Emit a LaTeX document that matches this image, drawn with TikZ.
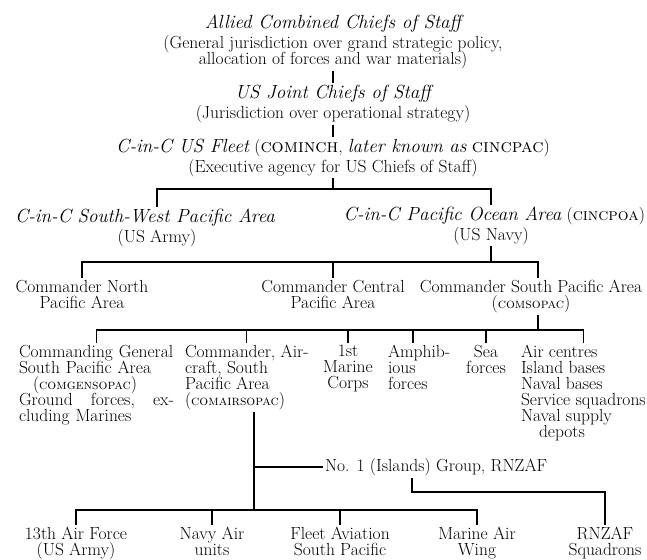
\documentclass[tikz,border=0pt]{standalone}
\usetikzlibrary{positioning}

\newcommand{\chief}[1]{{\fontsize{19}{18}\selectfont\itshape #1}}
\newcommand{\abbr}[2][14]{{\fontsize{#1}{16}\selectfont\textsc{#2}}}
\newcommand{\orgfont}{\fontsize{17.5}{16}\selectfont\lineskiplimit -6pt\relax}

\begin{document}
\begin{tikzpicture}[x=1pt, y=-1pt, node distance=12pt,
    box/.style={inner sep=0pt, outer sep=2pt, align=center, font=\orgfont},
    link/.style={line width=1.2pt}]
    \useasboundingbox (0,0) rectangle (647,559);

    %define the commands, top down
    \node[box, anchor=north] (acs) at (333,13) {\chief{Allied Combined Chiefs of Staff}\\[4pt]
        (General jurisdiction over grand strategic policy,\\allocation of forces and war materials)};
    \node[box, below=of acs] (jcs) {\chief{US Joint Chiefs of Staff}\\[4pt](Jurisdiction over operational strategy)};
    \node[box, below=of jcs] (fleet) {\chief{C-in-C US Fleet} (\abbr[19]{cominch}, \chief{later known as} \abbr[19]{cincpac})\\[4pt]
        (Executive agency for US Chiefs of Staff)};

    \node[box, anchor=north] (swpa) at (145,207) {\chief{C-in-C South-West Pacific Area}};
    \node[box, anchor=north] (army) at (157,227) {(US Army)};
    \node[box, anchor=north east] (poa) at (647,205) {\chief{C-in-C Pacific Ocean Area} (\abbr[17]{cincpoa})};
    \node[box, anchor=north] (navy) at (491,225) {(US Navy)};

    \node[box, anchor=north] (cna) at (82,278) {Commander North\\Pacific Area};
    \node[box, anchor=north] (cca) at (333,278) {Commander Central\\Pacific Area};
    \node[box, anchor=north] (csa) at (531,278) {Commander South Pacific Area\\(\abbr{comsopac})};

    \node[box, anchor=north west, align=left, text width=155pt] (cg) at (17,343) {Commanding General\\South Pacific Area\\
        \hspace*{14pt}(\abbr{comgensopac})\\Ground\hfill forces,\hfill ex-\\cluding Marines};
    \node[box, anchor=north west, align=left] (comair) at (183,343) {Commander, Air-\\craft, South\\Pacific Area\\(\abbr{comairsopac})};
    \node[box, anchor=north] (marine) at (348,343) {1st\\Marine\\Corps};
    \node[box, anchor=north west, align=left] (amph) at (386,343) {Amphib-\\ious\\forces};
    \node[box, anchor=north] (sea) at (486,343) {Sea\\forces};
    \node[box, anchor=north west, align=left] (bases) at (519,343) {Air centres\\Island bases\\Naval bases\\
        Service squadrons\\Naval supply\\\hspace*{18pt}depots};

    \node[box, anchor=west] (grp) at (323,467) {No. 1 (Islands) Group, RNZAF};

    \node[box, anchor=north] (af) at (76,525) {13th Air Force\\(US Army)};
    \node[box, anchor=north] (nau) at (212,525) {Navy Air\\units};
    \node[box, anchor=north] (fas) at (340,525) {Fleet Aviation\\South Pacific};
    \node[box, anchor=north] (maw) at (477,525) {Marine Air\\Wing};
    \node[box, anchor=north] (rz) at (605,525) {RNZAF\\Squadrons};

    %define the joints of the bars
    \coordinate (b1) at (333,189);
    \coordinate (b2) at (491,262);
    \coordinate (b3) at (538,330);
    \coordinate (b4) at (254,510);
    \coordinate (b5) at (605,492);
    \coordinate (b6) at (412,492);

    %define the links
    \draw[link] (acs) -- (jcs);
    \draw[link] (jcs) -- (fleet);
    \draw[link] (fleet) -- (b1);
    \draw[link] (army |- swpa.north) |- (b1);
    \draw[link] (navy |- poa.north) |- (b1);
    \draw[link] (navy) -- (b2);
    \draw[link] (cna.north) |- (b2);
    \draw[link] (cca.north) |- (b2);
    \draw[link] (b3 |- csa.north) |- (b2);
    \draw[link] (b3 |- csa.south) -- (b3);
    \draw[link] (cg.north) |- (b3);
    \draw[link] (comair.north) |- (b3);
    \draw[link] (marine.north) |- (b3);
    \draw[link] ([xshift=-6pt]amph.north) |- (b3);
    \draw[link] (sea.north) |- (b3);
    \draw[link] (bases.north) |- (b3);
    \draw[link] (b4 |- comair.south) -- (b4);
    \draw[link] (grp.west) -- (b4 |- grp.west);
    \draw[link] (grp.south -| b6) -- (b6) -- (b5) -- (rz.north);
    \draw[link] (af.north) |- (b4);
    \draw[link] (nau.north) |- (b4);
    \draw[link] (fas.north) |- (b4);
    \draw[link] (maw.north) |- (b4);
\end{tikzpicture}
\end{document}
